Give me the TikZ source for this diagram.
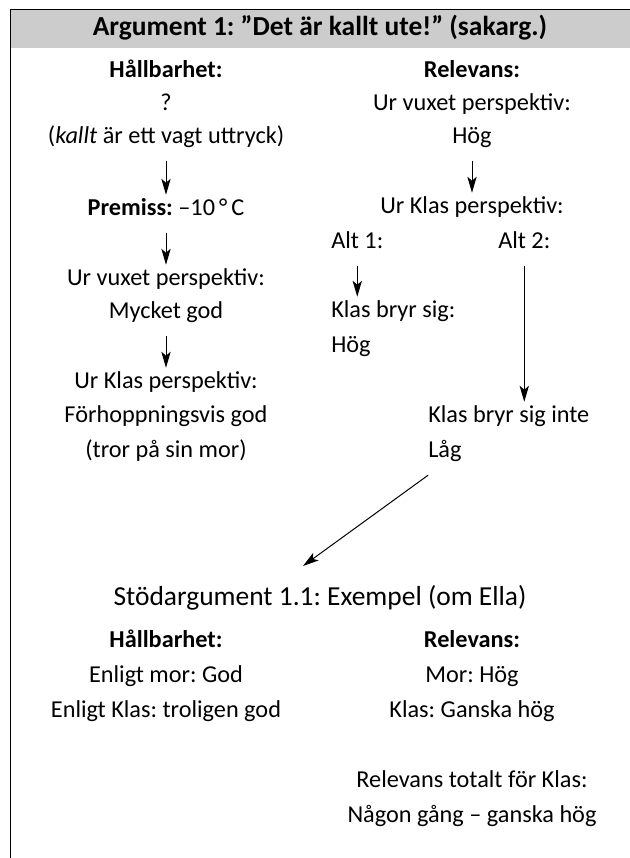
\documentclass[tikz,border=0pt]{standalone}
\usepackage{fontspec}
\setmainfont{Carlito}
\frenchspacing
\usetikzlibrary{arrows.meta,positioning}
\tikzset{
  every picture/.append style={line cap=round,line join=round},
  arg text/.style={font=\fontsize{18.2pt}{22pt}\selectfont,anchor=base,inner xsep=0pt,inner ysep=3.75pt,text height=11.25pt,text depth=9.75pt},
  arg left/.style={arg text,anchor=base west},
  arg bold/.style={arg text,font=\fontsize{18.2pt}{22pt}\selectfont\bfseries},
  arg title/.style={arg text,font=\fontsize{20.6pt}{24pt}\selectfont},
  arg arrow/.style={line width=0.75pt,-{Stealth[length=12pt,width=7pt,inset=3pt]}},
  arg frame/.style={line width=0.9pt},
  arg band/.style={fill=black!20}
}

\begin{document}
\begin{tikzpicture}[x=0.75pt,y=-0.75pt]
    \useasboundingbox (0,0) rectangle (630,858);
    \fill[arg band] (10.5,9.5) rectangle (630,47.5);
    \draw[arg frame] (10.5,858) -- (10.5,9.5) -- (630,9.5);
    \node[arg title,font=\fontsize{20.6pt}{24pt}\selectfont\bfseries] (head) at (320,35) {Argument 1: ”Det är kallt ute!” (sakarg.)};
    % vänster kolumn
    \node[arg bold] (hb) at (166,77) {Hållbarhet:};
    \node[arg text] (hq) at (166,110) {?};
    \node[arg text] (hk) at (166,143) {(\textit{kallt} är ett vagt uttryck)};
    \node[arg text] (premiss) at (166,215) {\textbf{Premiss:} –10\,°\,C};
    \node[arg text] (hv1) at (166,285) {Ur vuxet perspektiv:};
    \node[arg text] (hv2) at (166,318) {Mycket god};
    \node[arg text] (hk1) at (166,388) {Ur Klas perspektiv:};
    \node[arg text] (hk2) at (166,422) {Förhoppningsvis god};
    \node[arg text] (hk3) at (166,457) {(tror på sin mor)};
    \draw[arg arrow] (hk) -- (premiss);
    \draw[arg arrow] (premiss) -- (hv1);
    \draw[arg arrow] (hv2) -- (hk1);
    % höger kolumn
    \node[arg bold] (rb) at (472,77) {Relevans:};
    \node[arg text] (rv1) at (472,110) {Ur vuxet perspektiv:};
    \node[arg text] (rv2) at (472,143) {Hög};
    \node[arg text] (rk) at (472,213) {Ur Klas perspektiv:};
    \node[arg left] (alt1) at (331,248) {Alt 1:};
    \node[arg left] (alt2) at (498,248) {Alt 2:};
    \node[arg left] (a1a) at (331,317) {Klas bryr sig:};
    \node[arg left] (a1b) at (331,352) {Hög};
    \node[arg left] (a2a) at (428,422) {Klas bryr sig inte};
    \node[arg left] (a2b) at (428,457) {Låg};
    \draw[arg arrow] (rv2) -- (rk);
    \draw[arg arrow] (alt1) -- (alt1 |- a1a.north);
    \draw[arg arrow] (alt2) -- (alt2 |- a2a.north);
    % stödargument
    \node[arg title] (sub) at (320,605) {Stödargument 1.1: Exempel (om Ella)};
    \coordinate (tip) at (303,566);
    \draw[arg arrow] (a2b.south west) -- (tip);
    \node[arg bold] (sh) at (166,647) {Hållbarhet:};
    \node[arg text] (sh1) at (166,682) {Enligt mor: God};
    \node[arg text] (sh2) at (166,717) {Enligt Klas: troligen god};
    \node[arg bold] (sr) at (472,647) {Relevans:};
    \node[arg text] (sr1) at (472,682) {Mor: Hög};
    \node[arg text] (sr2) at (472,717) {Klas: Ganska hög};
    \node[arg text] (tot1) at (472,787) {Relevans totalt för Klas:};
    \node[arg text] (tot2) at (472,822) {Någon gång – ganska hög};
\end{tikzpicture}
\end{document}
